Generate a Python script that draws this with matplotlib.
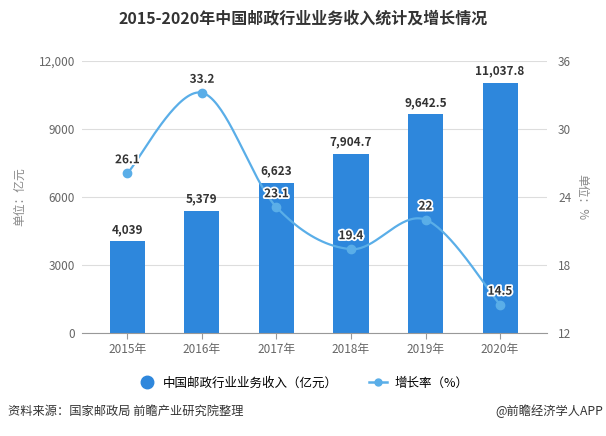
import numpy as np
import matplotlib
matplotlib.use('Agg')
import matplotlib.pyplot as plt
import matplotlib.patheffects as pe
from matplotlib.lines import Line2D

plt.rcParams['font.family'] = ['Noto Sans CJK SC', 'DejaVu Sans']

# 数据
years = ['2015年', '2016年', '2017年', '2018年', '2019年', '2020年']
income = [4039, 5379, 6623, 7904.7, 9642.5, 11037.8]
income_labels = ['4,039', '5,379', '6,623', '7,904.7', '9,642.5', '11,037.8']
growth = [26.1, 33.2, 23.1, 19.4, 22, 14.5]
growth_labels = ['26.1', '33.2', '23.1', '19.4', '22', '14.5']

bar_color = '#2e87dc'
line_color = '#5aaee8'
tick_color = '#666666'


# Catmull-Rom 平滑，用于画曲线
def smooth(xs, ys, n=40):
    xs = np.asarray(xs, float)
    ys = np.asarray(ys, float)
    px = np.concatenate([[xs[0]], xs, [xs[-1]]])
    py = np.concatenate([[ys[0]], ys, [ys[-1]]])
    outx, outy = [], []
    for i in range(1, len(px) - 2):
        t = np.linspace(0, 1, n)
        for arr, out in ((px, outx), (py, outy)):
            p0, p1, p2, p3 = arr[i - 1], arr[i], arr[i + 1], arr[i + 2]
            m1 = (p2 - p0) / 2
            m2 = (p3 - p1) / 2
            h00 = 2 * t ** 3 - 3 * t ** 2 + 1
            h10 = t ** 3 - 2 * t ** 2 + t
            h01 = -2 * t ** 3 + 3 * t ** 2
            h11 = t ** 3 - t ** 2
            out.extend(h00 * p1 + h10 * m1 + h01 * p2 + h11 * m2)
    return np.array(outx), np.array(outy)


fig = plt.figure(figsize=(6.06, 4.36), dpi=100)
ax = fig.add_axes([0.1353, 0.2362, 0.7673, 0.6239])
ax2 = ax.twinx()

x = np.arange(len(years))
ax.bar(x, income, width=0.47, color=bar_color, zorder=2)
for xi, v, s in zip(x, income, income_labels):
    ax.annotate(s, (xi, v), xytext=(0, 4), textcoords='offset points',
                ha='center', va='bottom', fontsize=8.5, fontweight='bold', color='#333333')

ax.set_xlim(-0.61, 5.63)
ax.set_ylim(0, 12000)
ax.set_yticks([0, 3000, 6000, 9000, 12000])
ax.set_yticklabels(['0', '3000', '6000', '9000', '12,000'])
ax.set_xticks(x)
ax.set_xticklabels(years)
ax.grid(axis='y', color='#dddddd', linewidth=0.8, zorder=0)
ax.set_axisbelow(True)
for sp in ['top', 'right', 'left']:
    ax.spines[sp].set_visible(False)
ax.spines['bottom'].set_color('#999999')
ax.tick_params(axis='y', length=0, pad=5, labelsize=8.5, labelcolor=tick_color)
ax.tick_params(axis='x', length=4, color='#999999', pad=3, labelsize=8.5, labelcolor=tick_color)
ax.set_ylabel('单位：亿元', fontsize=8.5, color='#888888', labelpad=9)

sx, sy = smooth(x, growth)
ax2.plot(sx, sy, color=line_color, linewidth=1.6, zorder=3)
ax2.plot(x, growth, 'o', color=line_color, markersize=6, zorder=4)
for xi, v, s in zip(x, growth, growth_labels):
    ax2.annotate(s, (xi, v), xytext=(0, 5), textcoords='offset points',
                 ha='center', va='bottom', fontsize=8.5, fontweight='bold', color='#333333',
                 path_effects=[pe.withStroke(linewidth=2.5, foreground='white')], zorder=5)
ax2.set_ylim(12, 36)
ax2.set_yticks([12, 18, 24, 30, 36])
for sp in ['top', 'right', 'left', 'bottom']:
    ax2.spines[sp].set_visible(False)
ax2.tick_params(axis='y', length=0, pad=8, labelsize=8.5, labelcolor=tick_color)
ax2.set_ylabel('单位：%', fontsize=8.5, color='#888888', rotation=270, labelpad=12)

fig.text(0.5, 0.958, '2015-2020年中国邮政行业业务收入统计及增长情况', ha='center', va='center',
         fontsize=11.5, fontweight='bold', color='#333333')

handles = [
    Line2D([], [], marker='o', linestyle='none', color=bar_color, markersize=9),
    Line2D([], [], marker='o', color=line_color, markersize=5, linewidth=1.8),
]
fig.legend(handles, ['中国邮政行业业务收入（亿元）', '增长率（%）'], loc='center',
           bbox_to_anchor=(0.5, 0.122), ncol=2, frameon=False, fontsize=9,
           handlelength=1.4, columnspacing=2.5, handletextpad=0.6)

fig.text(0.013, 0.057, '资料来源：国家邮政局 前瞻产业研究院整理', ha='left', va='center',
         fontsize=8.8, color='#333333')
fig.text(0.995, 0.057, '@前瞻经济学人APP', ha='right', va='center',
         fontsize=8.8, color='#333333')

fig.savefig('out.png', dpi=100)
